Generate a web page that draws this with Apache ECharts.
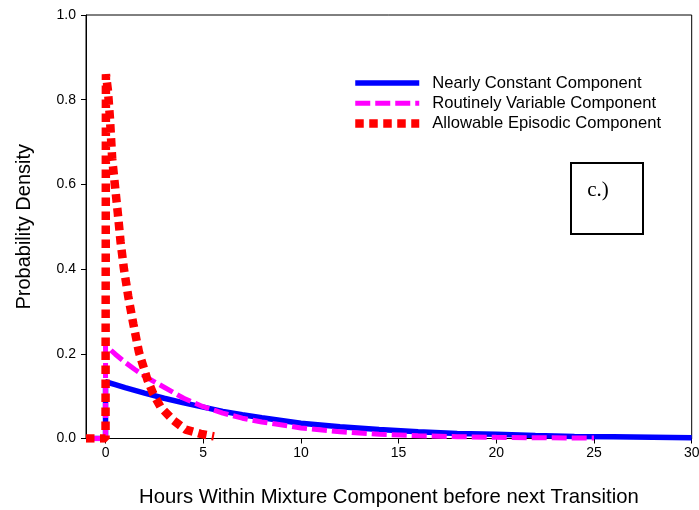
<!DOCTYPE html>
<html>
<head>
<meta charset="utf-8">
<script src="https://cdn.jsdelivr.net/npm/echarts@6/dist/echarts.min.js"></script>
<style>
html,body{margin:0;padding:0;background:#fff;}
#chart{width:699px;height:510px;}
</style>
</head>
<body>
<div id="chart"></div>
<script>
// ---- data ----
const seriesNames = ['Nearly Constant Component', 'Routinely Variable Component', 'Allowable Episodic Component'];

const xNearly = [-1, 0, 0, 0.5, 1, 2, 3, 4, 5, 6, 7, 8, 10, 12, 14, 16, 18, 20, 22, 24, 26, 28, 30];
const yNearly = [0, 0, 0.134, 0.127, 0.120, 0.107, 0.095, 0.084, 0.074, 0.064, 0.056, 0.049, 0.036, 0.028, 0.021, 0.016, 0.012, 0.010, 0.007, 0.005, 0.004, 0.003, 0.002];

const xRoutine = [-1, 0, 0, 0.5, 1, 1.5, 2, 3, 4, 5, 6, 7, 8, 10, 12, 14, 16, 18, 20, 22, 24, 25];
const yRoutine = [0, 0, 0.220, 0.199, 0.180, 0.163, 0.147, 0.121, 0.095, 0.075, 0.060, 0.048, 0.039, 0.025, 0.016, 0.010, 0.0065, 0.0042, 0.0028, 0.0018, 0.0012, 0.0010];

const xEpisodic = [-1, 0, 0.02, 0.12, 0.22, 0.34, 0.48, 0.63, 0.77, 0.94, 1.16, 1.42, 1.71, 2.14, 2.44, 2.82, 3.47, 4.10, 4.87, 5.55];
const yEpisodic = [0, 0, 0.860, 0.823, 0.760, 0.661, 0.598, 0.531, 0.464, 0.401, 0.336, 0.271, 0.204, 0.139, 0.106, 0.074, 0.043, 0.021, 0.011, 0.005];

const xTickValues = [0, 5, 10, 15, 20, 25, 30];

const panelLabel = 'c.)';
const xAxisTitle = 'Hours Within Mixture Component before next Transition';
const yAxisTitle = 'Probability Density';

// ---- chart ----
const zip = (xs, ys) => xs.map((x, i) => [x, ys[i]]);
const chart = echarts.init(document.getElementById('chart'), null, {renderer: 'canvas'});
const font = 'Liberation Sans, Arial, sans-serif';

chart.setOption({
  animation: false,
  backgroundColor: '#fff',
  grid: {
    left: 86, right: 7.3, top: 15, bottom: 71.5,
    outerBoundsMode: 'none', containLabel: false,
    show: true, borderColor: '#000', borderWidth: 1, backgroundColor: 'transparent'
  },
  legend: {
    orient: 'vertical',
    left: 351, top: 73,
    padding: 0,
    itemWidth: 64, itemHeight: 20, itemGap: 0.3,
    data: seriesNames,
    itemStyle: {opacity: 0},
    lineStyle: {width: 'inherit'},
    textStyle: {fontFamily: font, fontSize: 16.6, color: '#000', lineHeight: 20, padding: [0, 0, 0, 8]}
  },
  xAxis: {
    type: 'value', min: -1, max: 30,
    name: xAxisTitle, nameLocation: 'middle', nameGap: 49,
    nameTextStyle: {fontFamily: font, fontSize: 20.3, color: '#000'},
    axisLine: {show: true, onZero: false, lineStyle: {color: '#000', width: 1}},
    axisTick: {show: true, inside: false, length: 5, customValues: xTickValues, lineStyle: {color: '#000'}},
    axisLabel: {customValues: xTickValues, margin: 8, fontFamily: font, fontSize: 14, color: '#000', showMaxLabel: true, showMinLabel: true},
    splitLine: {show: false}
  },
  yAxis: {
    type: 'value', min: 0, max: 1, interval: 0.2,
    name: yAxisTitle, nameLocation: 'middle', nameGap: 52,
    nameTextStyle: {fontFamily: font, fontSize: 20, color: '#000'},
    axisLine: {show: true, onZero: false, lineStyle: {color: '#000', width: 1}},
    axisTick: {show: true, inside: false, length: 5, lineStyle: {color: '#000'}},
    axisLabel: {margin: 10, fontFamily: font, fontSize: 14, color: '#000', formatter: v => v.toFixed(1)},
    splitLine: {show: false}
  },
  series: [
    {
      name: seriesNames[0], type: 'line', symbol: 'none', smooth: false,
      data: zip(xNearly, yNearly),
      lineStyle: {color: '#0000ff', width: 5.5, type: 'solid'},
      itemStyle: {color: '#0000ff'}, z: 2
    },
    {
      name: seriesNames[1], type: 'line', symbol: 'none', smooth: false,
      data: zip(xRoutine, yRoutine),
      lineStyle: {color: '#ff00ff', width: 5, type: [15, 5]},
      itemStyle: {color: '#ff00ff'}, z: 3
    },
    {
      name: seriesNames[2], type: 'line', symbol: 'none', smooth: false,
      data: zip(xEpisodic, yEpisodic),
      lineStyle: {color: '#ff0000', width: 8.5, type: [8.5, 5.5], cap: 'butt'},
      itemStyle: {color: '#ff0000'}, z: 4
    }
  ],
  graphic: [
    {
      type: 'rect', left: 570, top: 162, z: 100,
      shape: {width: 72, height: 71},
      style: {fill: '#fff', stroke: '#000', lineWidth: 2}
    },
    {
      type: 'text', x: 598, y: 190, z: 101,
      style: {text: panelLabel, font: '21px "Liberation Serif", "Times New Roman", serif', fill: '#000', align: 'center', verticalAlign: 'middle'}
    }
  ]
});
</script>
</body>
</html>
